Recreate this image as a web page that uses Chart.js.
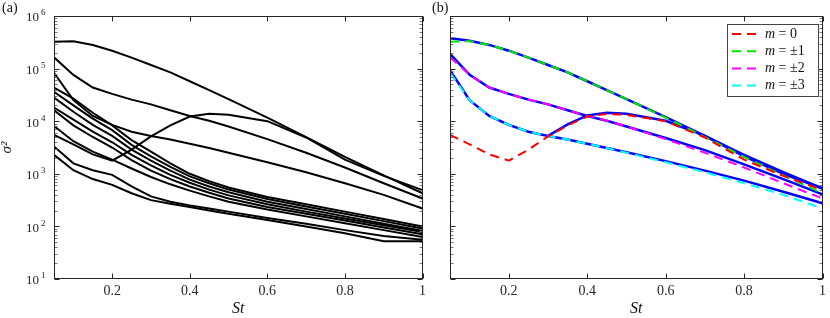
<!DOCTYPE html>
<html>
<head>
<meta charset="utf-8">
<script src="https://cdn.jsdelivr.net/npm/chart.js@4.4.0/dist/chart.umd.min.js"></script>
<style>
  body { margin: 0; background: #fff; }
  #wrap { position: relative; width: 830px; height: 318px; overflow: hidden; }
  canvas { position: absolute; top: 0; }
  .tag { position: absolute; top: 0; font: 14px "Liberation Serif", serif; color: #111; }
</style>
</head>
<body>
<div id="wrap">
  <canvas id="left" width="430" height="318" style="left:0"></canvas>
  <canvas id="right" width="400" height="318" style="left:430px"></canvas>
  <div class="tag" style="left:2px">(a)</div>
  <div class="tag" style="left:432px">(b)</div>
</div>
<script>
// Stokes numbers shared by every curve
const stokes = [0.05, 0.1, 0.15, 0.2, 0.25, 0.3, 0.35, 0.4, 0.45, 0.5, 0.6, 0.7, 0.8, 0.9, 1.0];
const xTicks = [0.2, 0.4, 0.6, 0.8, 1];
const yExponents = [1, 2, 3, 4, 5, 6];

// dashed modes (also the black curves of panel a)
const mode0 = [5500, 3630, 2340, 1780, 2880, 5130, 8320, 12300, 13800, 13200, 10000, 4900, 1860, 912, 490];
const mode1 = [324000, 331000, 282000, 219000, 162000, 117000, 85000, 57500, 38900, 26300, 11700, 5000, 2090, 930, 427];
const mode2 = [164000, 75900, 43600, 33100, 25700, 20900, 16200, 12600, 10200, 7940, 4570, 2510, 1320, 661, 339];
const mode3 = [83200, 25100, 12600, 8510, 6310, 5250, 4470, 3720, 3090, 2510, 1660, 1070, 661, 398, 219];

// solid blue curves of panel b
const blue0 = [null, null, null, null, null, 5250, 8710, 12900, 14500, 13800, 10200, 5250, 2140, 1000, 525];
const blue1 = [376000, 339000, 282000, 219000, 162000, 117000, 85000, 57500, 38900, 26300, 12000, 5250, 2290, 1070, 525];
const blue2 = [190500, 75900, 43600, 33100, 25700, 20900, 16200, 12600, 10200, 7940, 4790, 2820, 1510, 794, 407];
const blue3 = [93300, 25100, 12600, 8510, 6310, 5250, 4470, 3720, 3090, 2570, 1740, 1150, 741, 457, 275];

// higher modes, only in panel a
const high1 = [43700, 26900, 14500, 8320, 4370, 2630, 1580, 1000, 724, 550, 363, 263, 191, 138, 100];
const high2 = [36300, 20000, 11200, 6760, 3550, 2140, 1350, 891, 661, 501, 331, 240, 174, 126, 91];
const high3 = [28200, 15100, 8510, 5250, 2880, 1780, 1150, 776, 575, 447, 295, 214, 155, 112, 83];
const high4 = [18200, 10700, 6310, 3980, 2290, 1450, 955, 676, 501, 389, 263, 191, 141, 105, 78];
const high5 = [16200, 8320, 5010, 3160, 1820, 1150, 794, 575, 437, 339, 234, 174, 129, 95, 71];
const high6 = [8130, 4170, 2630, 1860, 1260, 871, 631, 479, 372, 295, 209, 155, 115, 85, 63];
const high7 = [3310, 1580, 1170, 955, 575, 372, 295, 251, 219, 191, 145, 112, 85, 66, 56];
const high8 = [2290, 1170, 794, 617, 427, 316, 269, 234, 200, 174, 132, 100, 74, 52, 52];

const legendLabels = ['0', '\u00b11', '\u00b12', '\u00b13'];
const modeColors = ['#ff0000', '#00e600', '#ff00ff', '#00ffff'];

const SERIF = '"Liberation Serif", "DejaVu Serif", serif';
const AXIS = '#262626';

// turn a value array into {x,y} points, skipping gaps
function toPoints(vals) {
  const pts = [];
  vals.forEach((v, i) => { if (v !== null) pts.push({ x: stokes[i], y: v }); });
  return pts;
}

function line(vals, color, dashed, width) {
  return {
    data: toPoints(vals),
    borderColor: color,
    borderWidth: width || 2,
    borderDash: dashed ? [9, 6] : [],
    pointRadius: 0,
    tension: 0,
    fill: false
  };
}

// box around the plot, inward ticks, y labels and legend
const framePlugin = {
  id: 'frame',
  afterDatasetsDraw(chart, args, opts) {
    const ctx = chart.ctx;
    const a = chart.chartArea;
    const xs = chart.scales.x, ys = chart.scales.y;
    const L = Math.round(a.left) + 0.5, R = Math.round(a.right) - 0.5;
    const T = Math.round(a.top) + 0.5, B = Math.round(a.bottom) - 0.5;
    ctx.save();
    ctx.strokeStyle = AXIS;
    ctx.lineWidth = 1;
    ctx.beginPath();
    xTicks.forEach(v => {
      const x = Math.round(xs.getPixelForValue(v)) + 0.5;
      ctx.moveTo(x, B); ctx.lineTo(x, B - 5);
      ctx.moveTo(x, T); ctx.lineTo(x, T + 5);
    });
    yExponents.forEach(n => {
      const y = Math.round(ys.getPixelForValue(Math.pow(10, n))) + 0.5;
      ctx.moveTo(L, y); ctx.lineTo(L + 5, y);
      ctx.moveTo(R, y); ctx.lineTo(R - 5, y);
    });
    ctx.stroke();
    ctx.strokeStyle = '#777';
    ctx.beginPath();
    yExponents.slice(0, -1).forEach(n => {
      for (let k = 2; k < 10; k++) {
        const y = Math.round(ys.getPixelForValue(k * Math.pow(10, n))) + 0.5;
        ctx.moveTo(L, y); ctx.lineTo(L + 3, y);
        ctx.moveTo(R, y); ctx.lineTo(R - 3, y);
      }
    });
    ctx.stroke();
    ctx.strokeStyle = AXIS;
    ctx.strokeRect(L, T, R - L, B - T);

    if (opts.yLabels) {
      ctx.fillStyle = AXIS;
      ctx.textBaseline = 'middle';
      yExponents.forEach(n => {
        const y = ys.getPixelForValue(Math.pow(10, n));
        ctx.font = '13px ' + SERIF;
        ctx.textAlign = 'right';
        ctx.fillText('10', 39, y + 2);
        ctx.font = '9px ' + SERIF;
        ctx.textAlign = 'left';
        ctx.fillText(String(n), 41, y - 3);
      });
    }

    if (opts.legend) {
      const bx = 297, by = 24, bw = 91, bh = 72;
      ctx.fillStyle = '#fff';
      ctx.fillRect(bx, by, bw, bh);
      ctx.strokeStyle = '#444';
      ctx.strokeRect(bx + 0.5, by + 0.5, bw, bh);
      legendLabels.forEach((lab, i) => {
        const y = 34 + i * 17.2;
        ctx.strokeStyle = modeColors[i];
        ctx.lineWidth = 2;
        ctx.setLineDash([9, 6]);
        ctx.beginPath();
        ctx.moveTo(302, y); ctx.lineTo(330, y);
        ctx.stroke();
        ctx.setLineDash([]);
        ctx.fillStyle = '#111';
        ctx.textBaseline = 'middle';
        ctx.textAlign = 'left';
        ctx.font = 'italic 14px ' + SERIF;
        ctx.fillText('m', 335, y);
        const w = ctx.measureText('m').width;
        ctx.font = '14px ' + SERIF;
        ctx.fillText(' = ' + lab, 335 + w, y);
      });
    }
    ctx.restore();
  }
};

function makeChart(id, datasets, isLeft) {
  return new Chart(document.getElementById(id), {
    type: 'line',
    data: { datasets: datasets },
    plugins: [framePlugin],
    options: {
      responsive: false,
      animation: false,
      events: [],
      layout: { padding: { left: 0, right: isLeft ? 1 : 3, top: 16, bottom: 0 } },
      plugins: {
        legend: { display: false },
        tooltip: { enabled: false },
        frame: { yLabels: isLeft, legend: !isLeft }
      },
      scales: {
        x: {
          type: 'linear',
          min: 0.05,
          max: 1,
          grid: { display: false, drawTicks: false },
          border: { display: false },
          afterBuildTicks: (s) => { s.ticks = xTicks.map(v => ({ value: v })); },
          afterFit: (s) => { s.height = 39; },
          ticks: {
            padding: 4,
            color: AXIS,
            font: { family: SERIF, size: 14 },
            callback: (v) => (v === 1 ? '1' : v.toFixed(1))
          },
          title: {
            display: true,
            text: 'St',
            color: '#111',
            font: { family: SERIF, size: 16, style: 'italic' },
            padding: { top: 0, bottom: 0 }
          }
        },
        y: {
          type: 'logarithmic',
          min: 10,
          max: 1e6,
          grid: { display: false, drawTicks: false },
          border: { display: false },
          ticks: { display: false },
          afterFit: (s) => { s.width = isLeft ? 54 : 20; },
          title: {
            display: isLeft,
            text: '\u03c3\u00b2',
            color: '#111',
            font: { family: SERIF, size: 15, style: 'italic', lineHeight: 1 },
            padding: 0
          }
        }
      }
    }
  });
}

// panel (a): every mode in black
const black = [mode1, mode2, mode3, mode0, high1, high2, high3, high4, high5, high6, high7, high8]
  .map(v => line(v, '#000', false));
makeChart('left', black, true);

// panel (b): dashed modes drawn over the blue curves
const right = [
  line(mode0, modeColors[0], true),
  line(mode1, modeColors[1], true),
  line(mode2, modeColors[2], true),
  line(mode3, modeColors[3], true),
  line(blue0, '#0000ff', false, 2.5),
  line(blue1, '#0000ff', false, 2.5),
  line(blue2, '#0000ff', false, 2.5),
  line(blue3, '#0000ff', false, 2.5)
];
makeChart('right', right, false);
</script>
</body>
</html>
